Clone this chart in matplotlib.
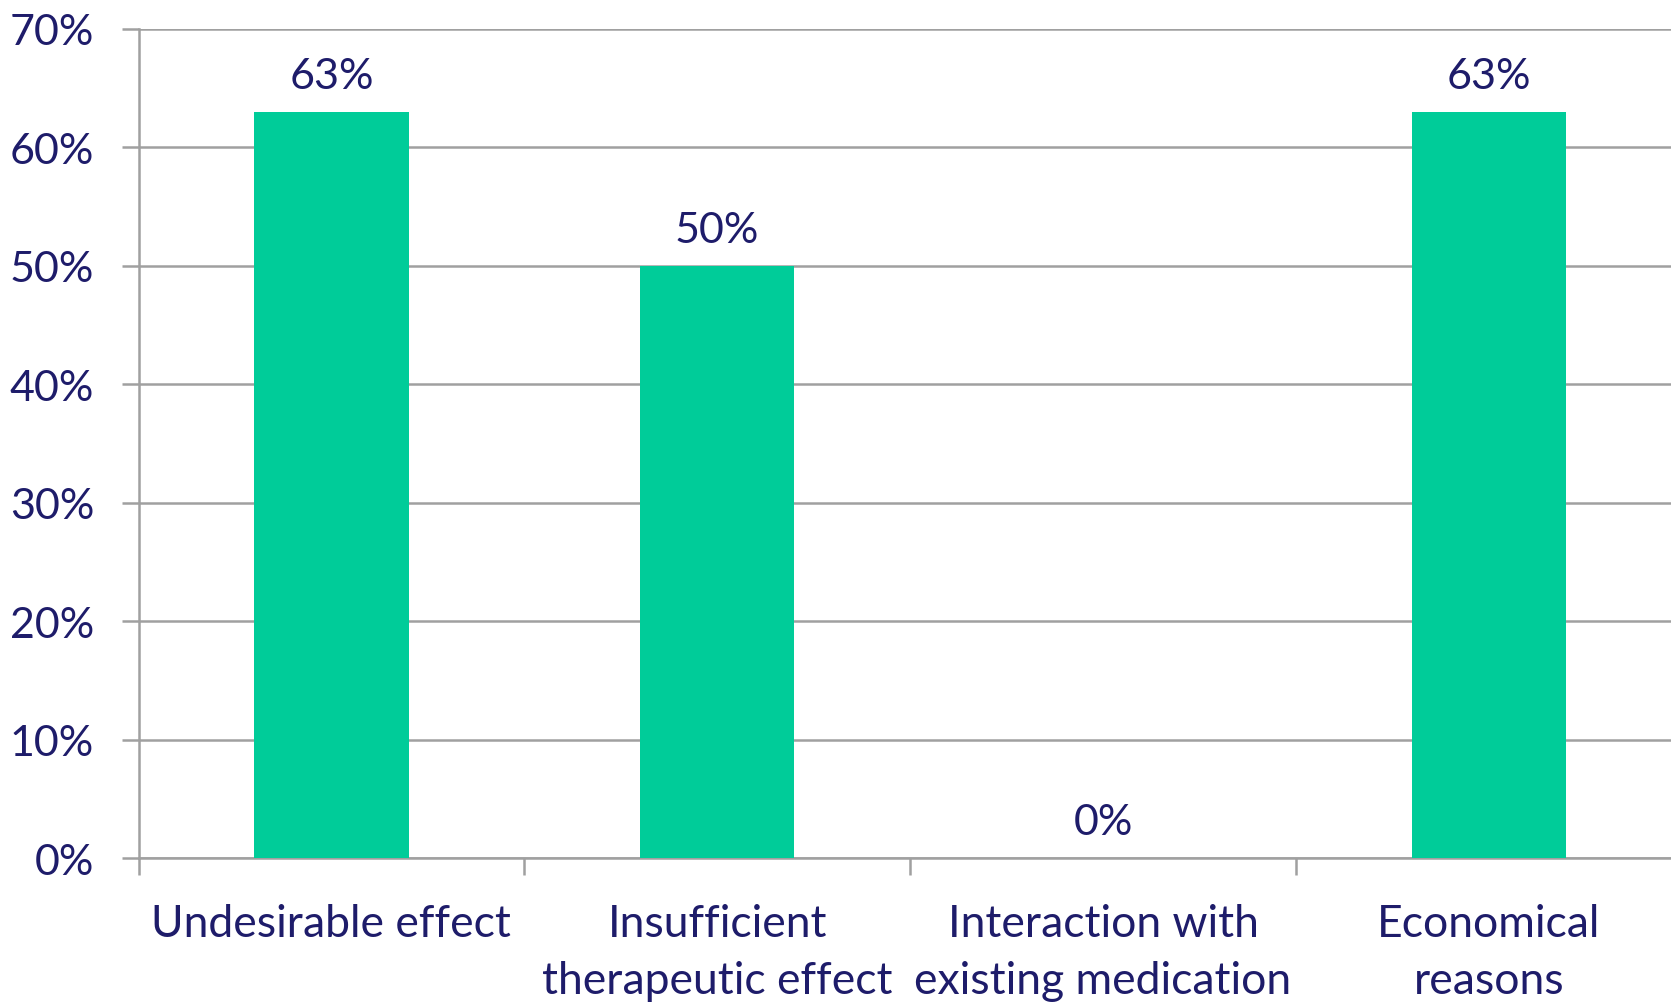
import numpy as np
import matplotlib.pyplot as plt
from matplotlib.ticker import FixedLocator, PercentFormatter

categories = ["Undesirable effect", "Insufficient\ntherapeutic effect",
              "Interaction with\nexisting medication", "Economical\nreasons"]
values = [63, 50, 0, 63]
y_ticks = [0, 10, 20, 30, 40, 50, 60, 70]

text_color = "#1e1c6a"
bar_color = "#00cc99"
grid_color = "#a0a0a0"

plt.rcParams["font.family"] = ["Lato", "DejaVu Sans"]

fig = plt.figure(figsize=(16.71, 10.03), dpi=100)
ax = fig.add_axes([0.0829, 0.1435, 0.9235, 0.8267])

x = np.arange(len(categories))
ax.bar(x, values, width=0.4, color=bar_color, zorder=3)

for xi, v in zip(x, values):
    ax.annotate(f"{v}%", (xi, v), xytext=(0, 12), textcoords="offset points",
                ha="center", va="bottom", fontsize=31, color=text_color)

ax.set_xlim(-0.5, len(categories) - 0.5)
ax.set_ylim(0, 70)
ax.set_yticks(y_ticks)
ax.yaxis.set_major_formatter(PercentFormatter(decimals=0))
ax.grid(axis="y", color=grid_color, linewidth=1.8, zorder=0)

ax.set_xticks(x)
ax.set_xticklabels(categories, fontsize=32, color=text_color, linespacing=1.5)
ax.xaxis.set_minor_locator(FixedLocator(np.arange(-0.5, len(categories), 1.0)))
ax.tick_params(axis="x", which="major", length=0, pad=32)
ax.tick_params(axis="x", which="minor", length=12, width=1.8, color=grid_color)
ax.tick_params(axis="y", length=12, width=1.8, color=grid_color,
               labelsize=31, labelcolor=text_color, pad=20)

for side in ["top", "right"]:
    ax.spines[side].set_visible(False)
for side in ["left", "bottom"]:
    ax.spines[side].set_color(grid_color)
    ax.spines[side].set_linewidth(1.8)

fig.savefig("out.png", dpi=100)
